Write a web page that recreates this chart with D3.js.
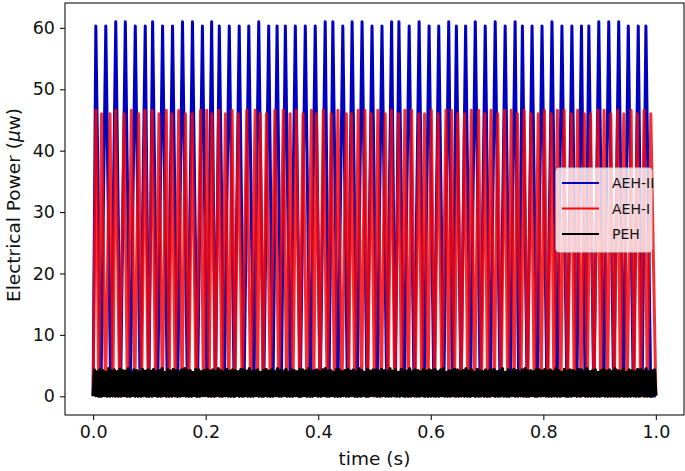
<!DOCTYPE html>
<html><head><meta charset="utf-8">
<script src="https://cdn.jsdelivr.net/npm/d3@7"></script>
<style>body{margin:0;background:#fff}svg{display:block}text{font-family:"DejaVu Sans",sans-serif}</style>
</head><body><svg id="c" width="685" height="471"></svg>
<script>
// ---- data ----
const xTicks = [0.0, 0.2, 0.4, 0.6, 0.8, 1.0];
const yTicks = [0, 10, 20, 30, 40, 50, 60];
const seriesNames = ["AEH-II", "AEH-I", "PEH"];

// AEH-II (blue) peaks
const aeh2PeakT = [0.0048,0.0225,0.0402,0.0572,0.0749,0.0926,0.1057,0.1234,0.1411,0.1588,0.1765,0.1942,0.2106,0.2242,0.2419,0.2596,0.2766,0.2943,0.3120,0.3269,0.3416,0.3593,0.3770,0.3947,0.4124,0.4260,0.4437,0.4602,0.4779,0.4956,0.5133,0.5304,0.5434,0.5616,0.5793,0.5970,0.6142,0.6319,0.6455,0.6619,0.6791,0.6968,0.7145,0.7322,0.7499,0.7628,0.7800,0.7977,0.8154,0.8331,0.8508,0.8678,0.8809,0.8986,0.9163,0.9340,0.9510,0.9687,0.9823];
const aeh2PeakV = [60.3,60.3,61.0,61.0,60.3,60.3,61.0,60.3,60.3,61.0,61.0,60.3,61.0,60.3,60.3,60.3,60.3,61.0,60.3,60.3,60.3,60.3,60.3,60.3,61.0,61.0,60.3,61.0,61.0,60.3,60.3,61.0,61.0,60.3,61.0,60.3,60.3,61.0,60.3,60.3,61.0,60.3,61.0,60.3,61.0,60.3,60.3,60.3,61.0,60.3,60.3,60.3,60.3,61.0,61.0,61.0,60.3,60.3,60.3];
// AEH-II troughs
const aeh2TroughT = [0.0000,0.0137,0.0313,0.0487,0.0660,0.0837,0.0990,0.1145,0.1320,0.1500,0.1677,0.1853,0.2024,0.2174,0.2330,0.2508,0.2680,0.2855,0.3030,0.3195,0.3343,0.3505,0.3680,0.3858,0.4035,0.4190,0.4348,0.4520,0.4690,0.4868,0.5045,0.5218,0.5370,0.5525,0.5705,0.5880,0.6056,0.6230,0.6387,0.6537,0.6705,0.6880,0.7056,0.7233,0.7410,0.7563,0.7714,0.7888,0.8065,0.8242,0.8420,0.8593,0.8743,0.8897,0.9074,0.9250,0.9425,0.9600,0.9755,0.9910,1.0000];
const aeh2TroughV = [0.1,0.0,0.2,0.1,0.0,0.1,0.3,0.0,0.1,0.0,0.1,0.0,0.2,0.3,0.1,0.0,0.0,0.1,0.0,0.2,0.3,0.1,0.0,0.0,0.1,0.3,0.0,0.1,0.0,0.0,0.1,0.2,0.3,0.0,0.1,0.0,0.0,0.1,0.3,0.1,0.0,0.0,0.1,0.0,0.1,0.3,0.0,0.0,0.1,0.0,0.0,0.1,0.3,0.0,0.1,0.0,0.0,0.1,0.2,0.0,0.1];

// AEH-I (red) peaks
const aeh1PeakT = [0.005,0.015,0.030,0.040,0.055,0.068,0.081,0.092,0.105,0.117,0.130,0.140,0.152,0.164,0.176,0.191,0.202,0.211,0.223,0.235,0.247,0.258,0.273,0.288,0.297,0.308,0.323,0.338,0.350,0.361,0.373,0.388,0.397,0.409,0.423,0.435,0.450,0.459,0.471,0.483,0.494,0.506,0.519,0.530,0.543,0.554,0.566,0.579,0.589,0.601,0.613,0.627,0.637,0.648,0.660,0.672,0.685,0.696,0.707,0.719,0.731,0.743,0.754,0.766,0.778,0.791,0.802,0.814,0.825,0.837,0.850,0.861,0.873,0.884,0.897,0.908,0.920,0.932,0.943,0.956,0.967,0.979,0.991];
const aeh1PeakV = [46.6,46.0,46.0,46.6,46.0,46.6,46.0,46.6,46.6,46.0,46.6,46.0,46.6,46.0,46.0,46.6,46.6,46.0,46.6,46.0,46.6,46.0,46.6,46.6,46.0,46.0,46.6,46.6,46.0,46.6,46.0,46.6,46.0,46.6,46.0,46.6,46.0,46.0,46.6,46.6,46.0,46.6,46.0,46.6,46.0,46.6,46.6,46.0,46.0,46.6,46.0,46.6,46.6,46.0,46.0,46.6,46.6,46.0,46.6,46.0,46.6,46.6,46.0,46.6,46.0,46.0,46.6,46.0,46.6,46.6,46.0,46.6,46.0,46.0,46.6,46.6,46.0,46.6,46.0,46.6,46.0,46.6,46.0];
const aeh1TroughT = [0.000,0.010,0.022,0.035,0.047,0.061,0.074,0.086,0.098,0.111,0.123,0.135,0.146,0.158,0.170,0.183,0.196,0.206,0.217,0.229,0.241,0.252,0.265,0.280,0.292,0.302,0.315,0.330,0.344,0.355,0.367,0.380,0.392,0.403,0.416,0.429,0.442,0.454,0.465,0.477,0.488,0.500,0.512,0.524,0.536,0.548,0.560,0.572,0.584,0.595,0.607,0.620,0.632,0.642,0.654,0.666,0.678,0.690,0.701,0.713,0.725,0.737,0.748,0.760,0.772,0.784,0.796,0.808,0.819,0.831,0.843,0.855,0.867,0.878,0.890,0.902,0.914,0.926,0.937,0.949,0.961,0.973,0.985,1.000];
const aeh1TroughV = [0.1,0.0,0.2,0.0,0.1,0.0,0.2,0.0,0.0,0.1,0.0,0.1,0.0,0.2,0.0,0.0,0.1,0.3,0.0,0.0,0.1,0.0,0.1,0.0,0.2,0.0,0.0,0.1,0.0,0.1,0.0,0.0,0.2,0.1,0.0,0.0,0.1,0.2,0.0,0.0,0.1,0.0,0.0,0.1,0.0,0.1,0.0,0.0,0.2,0.0,0.0,0.1,0.2,0.0,0.0,0.1,0.0,0.1,0.0,0.0,0.1,0.0,0.2,0.0,0.0,0.1,0.0,0.1,0.0,0.0,0.1,0.2,0.0,0.0,0.1,0.0,0.1,0.0,0.0,0.1,0.0,0.0,0.1,0.1];

// PEH (black): sampled uniformly over 0..1 s, alternating low / high
const pehHigh = [4.3,4.0,4.4,4.2,3.9,4.5,4.1,4.3,4.0,4.4,4.2,4.1,4.5,3.9,4.3,4.2,4.0,4.4,4.1,4.3,
4.1,4.4,4.0,4.2,4.5,3.9,4.3,4.1,4.4,4.2,4.0,4.3,4.5,4.1,4.2,3.9,4.4,4.3,4.0,4.2,
4.4,4.1,4.3,4.0,4.5,4.2,3.9,4.4,4.1,4.3,4.2,4.0,4.4,4.3,4.1,4.5,4.0,4.2,4.3,3.9,
4.2,4.4,4.1,4.3,4.0,4.5,4.2,4.1,4.4,3.9,4.3,4.2,4.0,4.4,4.3,4.1,4.5,4.0,4.2,4.3,
4.0,4.3,4.5,4.1,4.2,3.9,4.4,4.3,4.0,4.2,4.4,4.1,4.3,4.0,4.5,4.2,3.9,4.4,4.1,4.3,
4.3,4.1,4.4,4.2,4.0,4.5,4.1,4.3,3.9,4.4,4.2,4.1,4.5,4.0,4.3,4.2,4.0,4.4,4.1,4.3,
4.2,4.4,4.0,4.3,4.5,3.9,4.2,4.1,4.4,4.3,4.0,4.2,4.5,4.1,4.3,3.9,4.4,4.2,4.0,4.3,
4.1,4.3,4.4,4.0,4.2,4.5,3.9,4.3,4.1,4.4,4.2,4.0,4.3,4.5,4.1,4.2,4.0,4.4,4.3,4.1,
4.4,4.1,4.3,4.0,4.5,4.2,3.9,4.4,4.1,4.3,4.2,4.0,4.4,4.3,4.1,4.5,4.0,4.2,4.3,3.9,
4.2,4.4,4.1,4.3,4.0,4.5,4.2,4.1,4.4,3.9,4.3,4.2,4.0,4.4,4.3,4.1,4.5,4.0,4.2,4.3];
const pehLow = [0.0,0.1,0.0,0.0,0.1,0.0,0.0,0.1,0.0,0.0,0.0,0.1,0.0,0.0,0.1,0.0,0.0,0.0,0.1,0.0,
0.0,0.0,0.1,0.0,0.0,0.1,0.0,0.0,0.0,0.1,0.0,0.0,0.1,0.0,0.0,0.0,0.1,0.0,0.0,0.1,
0.1,0.0,0.0,0.0,0.1,0.0,0.0,0.1,0.0,0.0,0.0,0.1,0.0,0.0,0.1,0.0,0.0,0.0,0.1,0.0,
0.0,0.1,0.0,0.0,0.0,0.1,0.0,0.0,0.1,0.0,0.0,0.0,0.1,0.0,0.0,0.1,0.0,0.0,0.0,0.1,
0.0,0.0,0.1,0.0,0.0,0.1,0.0,0.0,0.0,0.1,0.0,0.0,0.1,0.0,0.0,0.0,0.1,0.0,0.0,0.1,
0.1,0.0,0.0,0.1,0.0,0.0,0.0,0.1,0.0,0.0,0.1,0.0,0.0,0.0,0.1,0.0,0.0,0.1,0.0,0.0,
0.0,0.1,0.0,0.0,0.1,0.0,0.0,0.0,0.1,0.0,0.0,0.1,0.0,0.0,0.0,0.1,0.0,0.0,0.1,0.0,
0.0,0.0,0.1,0.0,0.0,0.1,0.0,0.0,0.0,0.1,0.0,0.0,0.1,0.0,0.0,0.0,0.1,0.0,0.0,0.1,
0.1,0.0,0.0,0.0,0.1,0.0,0.0,0.1,0.0,0.0,0.0,0.1,0.0,0.0,0.1,0.0,0.0,0.0,0.1,0.0,
0.0,0.1,0.0,0.0,0.0,0.1,0.0,0.0,0.1,0.0,0.0,0.0,0.1,0.0,0.0,0.1,0.0,0.0,0.0,0.1];
const pehStart = 0.0, pehEnd = 1.0;

const colors = {"AEH-II": "#0000c0", "AEH-I": "#f80808", "PEH": "#000000"};

// ---- build point lists ----
function merge(pt, pv, tt, tv) {
  const a = pt.map((t, i) => ({t, v: pv[i]})).concat(tt.map((t, i) => ({t, v: tv[i]})));
  return a.sort((p, q) => p.t - q.t);
}
const aeh2 = merge(aeh2PeakT, aeh2PeakV, aeh2TroughT, aeh2TroughV);
const aeh1 = merge(aeh1PeakT, aeh1PeakV, aeh1TroughT, aeh1TroughV);
const peh = [];
const nS = pehHigh.length * 2;
for (let i = 0; i < pehHigh.length; i++) {
  peh.push({t: pehStart + (pehEnd - pehStart) * (2 * i) / nS, v: pehLow[i]});
  peh.push({t: pehStart + (pehEnd - pehStart) * (2 * i + 1) / nS, v: pehHigh[i]});
}
peh.push({t: pehEnd, v: pehLow[pehLow.length - 1]});

// ---- layout ----
const L = 65, R = 684, T = 3, B = 415;
const svg = d3.select("#c");
const x = d3.scaleLinear().domain([-0.05, 1.05]).range([L, R]);
const y = d3.scaleLinear().domain([-3.05, 64.05]).range([B, T]);

svg.append("clipPath").attr("id", "pa").append("rect")
  .attr("x", L).attr("y", T).attr("width", R - L).attr("height", B - T);
const g = svg.append("g").attr("clip-path", "url(#pa)");
const line = d3.line().x(d => x(d.t)).y(d => y(d.v));
[[aeh2, "AEH-II", 3.0, 1], [aeh1, "AEH-I", 3.0, 0.85], [peh, "PEH", 3.2, 1]].forEach(([d, n, w, o]) => {
  g.append("path").attr("d", line(d)).attr("fill", "none")
    .attr("stroke", colors[n]).attr("stroke-width", w).attr("stroke-opacity", o)
    .attr("stroke-linejoin", "round").attr("stroke-linecap", "butt");
});

// axes
const tfs = 17.5, lfs = 18.5, gfs = 14;
const xa = svg.append("g").attr("transform", `translate(0,${B})`)
  .call(d3.axisBottom(x).tickValues(xTicks).tickFormat(d3.format(".1f")).tickSize(5).tickPadding(6));
const ya = svg.append("g").attr("transform", `translate(${L},0)`)
  .call(d3.axisLeft(y).tickValues(yTicks).tickFormat(d3.format("d")).tickSize(5).tickPadding(5));
[xa, ya].forEach(a => {
  a.select(".domain").remove();
  a.selectAll("text").attr("font-size", tfs).attr("fill", "#111").attr("font-family", "DejaVu Sans");
  a.selectAll("line").attr("stroke", "#111").attr("stroke-width", 1.1);
});
svg.append("rect").attr("x", L).attr("y", T).attr("width", R - L).attr("height", B - T)
  .attr("fill", "none").attr("stroke", "#111").attr("stroke-width", 1.1);

svg.append("text").attr("x", (L + R) / 2).attr("y", 465).attr("text-anchor", "middle")
  .attr("font-size", lfs).attr("fill", "#111").text("time (s)");
const yl = svg.append("text").attr("transform", `translate(20,205) rotate(-90)`)
  .attr("text-anchor", "middle").attr("font-size", lfs).attr("fill", "#111");
yl.append("tspan").text("Electrical Power (");
yl.append("tspan").attr("font-style", "italic").text("μ");
yl.append("tspan").text("w)");

// legend
const lg = svg.append("g");
lg.append("rect").attr("x", 556).attr("y", 168).attr("width", 96).attr("height", 84)
  .attr("rx", 3).attr("fill", "#fff").attr("fill-opacity", 0.8).attr("stroke", "#cccccc").attr("stroke-width", 1);
seriesNames.forEach((n, i) => {
  const yy = 183 + i * 25.5;
  lg.append("line").attr("x1", 562).attr("x2", 599).attr("y1", yy).attr("y2", yy)
    .attr("stroke", colors[n]).attr("stroke-width", 2);
  lg.append("text").attr("x", 612).attr("y", yy + 5).attr("font-size", gfs).attr("fill", "#111").text(n);
});
</script></body></html>
